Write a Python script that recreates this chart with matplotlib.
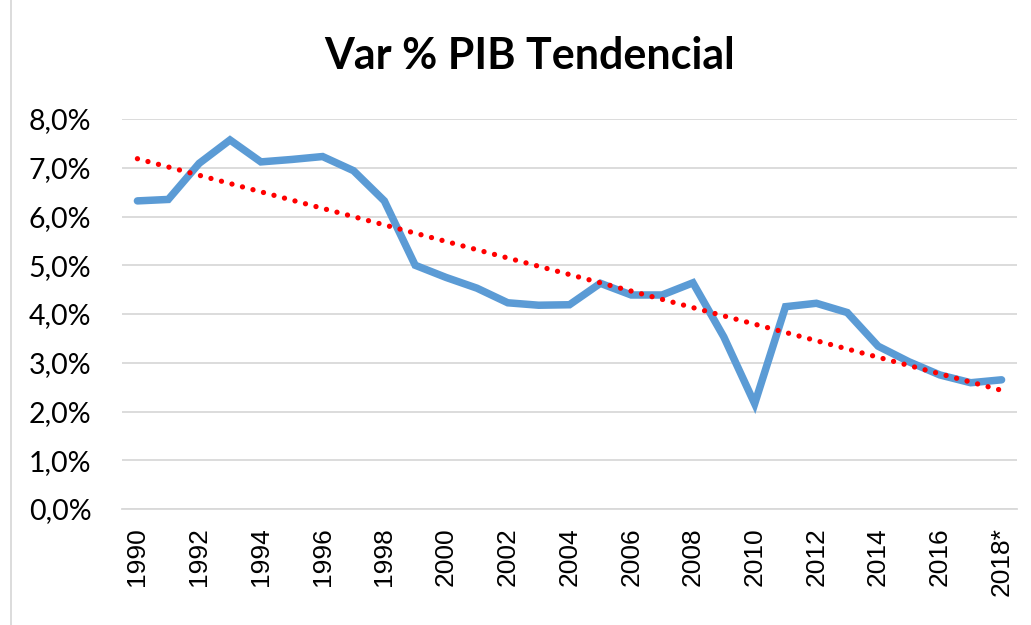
import numpy as np
import matplotlib
matplotlib.use("Agg")
import matplotlib.pyplot as plt
from matplotlib.ticker import FuncFormatter

years = list(range(1990, 2019))
year_labels = [str(y) for y in years[:-1]] + ["2018*"]
pib_var = [6.32, 6.35, 7.09, 7.57, 7.12, 7.17, 7.23, 6.94, 6.32, 5.00,
           4.75, 4.53, 4.23, 4.18, 4.19, 4.63, 4.39, 4.39, 4.64, 3.53,
           2.16, 4.15, 4.22, 4.03, 3.34, 3.02, 2.75, 2.59, 2.65]
title = "Var % PIB Tendencial"

x = np.arange(len(years))
y = np.array(pib_var)
coef = np.polyfit(x, y, 1)
trend = np.polyval(coef, x)

fig = plt.figure(figsize=(10.31, 6.25), dpi=100)
ax = fig.add_axes([122/1031, 1-509/625, (1017-122)/1031, (509-119)/625])

ax.plot(x, y, color="#5b9bd5", lw=5.4, solid_joinstyle="miter", solid_capstyle="round", zorder=3)
ax.plot(x, trend, color="#ff0000", lw=3.8, linestyle=(0, (0.01, 2.05)),
        dash_capstyle="round", zorder=4)

ax.set_xlim(-0.5, len(years) - 0.5)
ax.set_ylim(0, 8)
ax.set_yticks(np.arange(0, 9, 1))
ax.yaxis.set_major_formatter(FuncFormatter(lambda v, p: f"{v:.1f}%".replace(".", ",")))
ax.set_xticks(x[::2])
ax.set_xticklabels(year_labels[::2], rotation=90, fontsize=19, family="Liberation Sans",
                   va="top", ha="center")
for lab in ax.get_yticklabels():
    lab.set_fontsize(20.5)
    lab.set_family(["Lato", "DejaVu Sans"])
ax.tick_params(axis="y", length=0, pad=22)
ax.tick_params(axis="x", length=0, pad=13)
ax.grid(axis="y", color="#d9d9d9", lw=1.3)
ax.set_axisbelow(True)
for s in ["top", "right", "left"]:
    ax.spines[s].set_visible(False)
ax.spines["bottom"].set_color("#d9d9d9")
ax.spines["bottom"].set_linewidth(1.3)

fig.text(530/1031, 1-56/625, title, ha="center", va="center", fontsize=31,
         fontweight="bold", family=["Lato", "DejaVu Sans"])

fig.add_artist(plt.Line2D([11/1031, 11/1031], [0, 1], color="#d9d9d9", lw=1.3,
                          transform=fig.transFigure))

fig.savefig("out.png", dpi=100, facecolor="white")
